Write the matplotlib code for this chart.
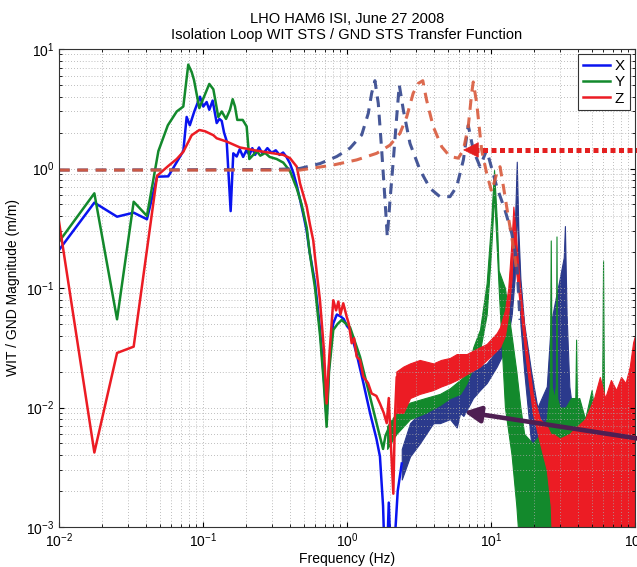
import numpy as np
import matplotlib
matplotlib.use("Agg")
import matplotlib.pyplot as plt

plt.rcParams["font.family"] = ["Liberation Sans", "DejaVu Sans"]
plt.rcParams["mathtext.fontset"] = "custom"
plt.rcParams["mathtext.rm"] = "Liberation Sans"

# --- measured transfer functions (low / mid frequency, single traces) ---
x_f = [0.01, 0.0176, 0.0253, 0.033, 0.0408, 0.048, 0.0574, 0.073, 0.077, 0.081,
       0.087, 0.0953, 0.1005, 0.106, 0.1106, 0.1167, 0.1245, 0.13, 0.1349, 0.14,
       0.146, 0.1556, 0.1623, 0.1714, 0.18, 0.19, 0.2, 0.21, 0.22, 0.23,
       0.245, 0.26, 0.28, 0.3, 0.32, 0.34, 0.36, 0.38, 0.402, 0.424,
       0.448, 0.472, 0.5, 0.525, 0.55, 0.6, 0.65, 0.69, 0.722, 0.75,
       0.8, 0.85, 0.9, 0.95, 1.0, 1.05, 1.167, 1.3, 1.445, 1.6,
       1.693, 1.78, 1.83, 1.9, 1.95, 2.0, 2.08, 2.15, 2.25, 2.4]
x_m = [0.208, 0.518, 0.395, 0.427, 0.376, 0.854, 0.86, 1.4, 2.7, 2.3,
       3.0, 3.99, 3.3, 3.6, 3.1, 3.7, 2.4, 2.6, 2.5, 2.0,
       1.7, 0.44, 1.34, 1.26, 1.45, 1.25, 1.42, 1.3, 1.48, 1.3,
       1.5, 1.32, 1.48, 1.35, 1.42, 1.3, 1.36, 1.25, 1.1, 0.92,
       0.72, 0.55, 0.4, 0.3, 0.2, 0.11, 0.045, 0.018, 0.008, 0.022,
       0.05, 0.06, 0.058, 0.055, 0.048, 0.045, 0.028, 0.016, 0.009, 0.0055,
       0.0039, 0.0015, 0.0005, 0.0006, 0.0016, 0.0007, 0.0005, 0.0008, 0.002, 0.0034]

y_f = [0.01, 0.0176, 0.0253, 0.033, 0.0408, 0.049, 0.057, 0.0657, 0.073, 0.079,
       0.0835, 0.0866, 0.0943, 0.1106, 0.118, 0.1277, 0.1349, 0.1445, 0.154, 0.1607,
       0.1668, 0.173, 0.1887, 0.201, 0.2097, 0.2234, 0.236, 0.25, 0.27, 0.29,
       0.325, 0.361, 0.402, 0.448, 0.484, 0.525, 0.55, 0.6, 0.65, 0.69,
       0.722, 0.75, 0.803, 0.86, 0.918, 1.049, 1.231, 1.445, 1.6, 1.693,
       1.78, 1.85, 2.0]
y_m = [0.244, 0.62, 0.0547, 0.527, 0.401, 1.4, 2.3, 3.0, 3.3, 7.4,
       6.4, 5.5, 3.2, 5.1, 4.6, 2.7, 3.0, 2.6, 3.1, 3.8,
       3.3, 2.55, 2.55, 2.25, 1.2, 1.3, 1.4, 1.28, 1.35, 1.25,
       1.2, 1.12, 0.95, 0.68, 0.5, 0.32, 0.2, 0.1, 0.04, 0.016,
       0.0069, 0.02, 0.0446, 0.05, 0.054, 0.047, 0.0266, 0.0123, 0.0075, 0.0057,
       0.0045, 0.0058, 0.0072]

z_f = [0.01, 0.0176, 0.0253, 0.033, 0.048, 0.0574, 0.0657, 0.073, 0.0835, 0.0943,
       0.1033, 0.118, 0.1245, 0.146, 0.1806, 0.236, 0.3078, 0.361, 0.402, 0.448,
       0.472, 0.525, 0.553, 0.583, 0.599, 0.649, 0.692, 0.722, 0.753, 0.803,
       0.84, 0.871, 0.9, 0.942, 0.995, 1.03, 1.078, 1.12, 1.167, 1.23,
       1.298, 1.4, 1.483, 1.6, 1.693, 1.8, 1.887, 1.95, 2.0, 2.098,
       2.15, 2.214, 2.3]
z_m = [0.359, 0.0042, 0.0286, 0.0323, 0.87, 1.05, 1.2, 1.38, 1.9, 2.1,
       2.05, 1.9, 1.79, 1.68, 1.5, 1.41, 1.34, 1.3, 1.22, 1.035,
       0.75, 0.48, 0.34, 0.25, 0.183, 0.079, 0.030, 0.0108, 0.0266, 0.079,
       0.065, 0.077, 0.06, 0.0745, 0.0575, 0.05, 0.0345, 0.038, 0.0266, 0.025,
       0.0181, 0.016, 0.0131, 0.0125, 0.0108, 0.009, 0.0074, 0.012, 0.006, 0.0019,
       0.008, 0.018, 0.01]

# --- dense, noisy part of the spectra: lower / upper envelopes ---
xb_f = [2.4, 2.74, 3.2, 3.97, 4.42, 5.19, 5.78, 6.1, 6.43, 6.78,
        7.5, 8.39, 9.33, 10.96, 11.55, 12.5, 13.18, 13.93, 14.6, 15.1,
        15.5, 16.0, 17.0, 19.0, 21.0, 24.4, 26.0, 28.0, 30.0, 32.0,
        32.6, 33.5, 35.0, 38.0, 45.0]
xb_lo = [0.0025, 0.0039, 0.005, 0.0074, 0.0074, 0.008, 0.0068, 0.009, 0.0085, 0.0095,
         0.012, 0.014, 0.016, 0.022, 0.025, 0.03, 0.04, 0.06, 0.12, 0.5,
         0.15, 0.05, 0.02, 0.005, 0.0005, 0.0005, 0.0005, 0.0005, 0.0005, 0.0005,
         0.0005, 0.0005, 0.0005, 0.0005, 0.0005]
xb_hi = [0.0045, 0.0074, 0.009, 0.0108, 0.0115, 0.0125, 0.0135, 0.015, 0.016, 0.018,
         0.02, 0.022, 0.0234, 0.03, 0.032, 0.045, 0.07, 0.11, 0.3, 1.14,
         0.3, 0.12, 0.05, 0.02, 0.01, 0.015, 0.05, 0.08, 0.12, 0.18,
         0.33, 0.06, 0.015, 0.007, 0.005]

yb_f = [1.9, 2.2, 2.74, 3.5, 4.42, 5.19, 6.1, 6.78, 7.53, 8.39,
        9.33, 10.0, 10.5, 11.0, 11.3, 12.5, 13.9, 15.0, 16.0, 17.0,
        19.5, 22.0, 24.4, 25.6, 26.0, 26.4, 27.5, 28.2, 28.5, 28.8,
        30.0, 33.0, 36.0, 38.5, 39.0, 39.5, 41.0, 45.0, 50.0, 52.0,
        59.0, 60.0, 61.0, 62.0]
yb_lo = [0.0045, 0.006, 0.008, 0.009, 0.0105, 0.012, 0.013, 0.016, 0.022, 0.03,
         0.06, 0.2, 0.6, 0.2, 0.1, 0.01, 0.004, 0.0015, 0.0005, 0.0004,
         0.0004, 0.0004, 0.0004, 0.0004, 0.0004, 0.0004, 0.0004, 0.0004, 0.0004, 0.0004,
         0.0004, 0.0004, 0.0004, 0.0004, 0.0004, 0.0004, 0.0004, 0.0004, 0.0004, 0.0004,
         0.0004, 0.0004, 0.0004, 0.0004]
yb_hi = [0.007, 0.009, 0.011, 0.012, 0.013, 0.0145, 0.017, 0.019, 0.032, 0.045,
         0.11, 0.35, 0.97, 0.35, 0.14, 0.1, 0.04, 0.02, 0.01, 0.006,
         0.005, 0.006, 0.008, 0.015, 0.25, 0.015, 0.012, 0.015, 0.27, 0.012,
         0.01, 0.01, 0.012, 0.012, 0.037, 0.012, 0.012, 0.008, 0.014, 0.0095,
         0.008, 0.17, 0.008, 0.006]

zb_f = [2.2, 2.46, 2.74, 3.2, 3.97, 4.5, 5.19, 5.78, 6.78, 8.39,
        9.33, 10.96, 11.55, 12.5, 13.18, 13.9, 14.3, 14.8, 15.9, 17.5,
        19.5, 21.9, 24.4, 26.0, 27.0, 30.0, 35.0, 40.0, 45.0, 52.0,
        57.0, 62.0, 68.0, 74.0, 80.0, 86.0, 92.0, 97.0, 100.0]
zb_lo = [0.009, 0.009, 0.012, 0.013, 0.014, 0.015, 0.016, 0.017, 0.019, 0.022,
         0.025, 0.03, 0.032, 0.04, 0.06, 0.12, 0.3, 0.15, 0.07, 0.025,
         0.009, 0.005, 0.003, 0.0015, 0.0004, 0.0004, 0.0004, 0.0004, 0.0004, 0.0004,
         0.0004, 0.0004, 0.0004, 0.0004, 0.0004, 0.0004, 0.0004, 0.0004, 0.0004]
zb_hi = [0.02, 0.022, 0.0234, 0.025, 0.0234, 0.025, 0.026, 0.028, 0.028, 0.032,
         0.034, 0.042, 0.047, 0.065, 0.1, 0.25, 0.48, 0.3, 0.1, 0.035,
         0.013, 0.008, 0.007, 0.006, 0.006, 0.0055, 0.006, 0.007, 0.008, 0.012,
         0.018, 0.012, 0.017, 0.014, 0.018, 0.016, 0.022, 0.035, 0.04]

# --- model curves (dashed) ---
mx_f = [0.01, 0.3, 0.47, 0.65, 0.849, 1.049, 1.265, 1.406, 1.483, 1.563,
        1.649, 1.741, 1.836, 1.905, 1.99, 2.098, 2.214, 2.307, 2.461, 2.738,
        3.214, 3.77, 4.42, 5.19, 5.78, 6.43, 6.95, 7.53, 8.39, 9.33,
        10.96, 12.5, 13.93, 15.07, 15.9]
mx_m = [0.97, 0.98, 1.0, 1.1, 1.26, 1.48, 1.91, 2.9, 4.26, 5.43,
        3.51, 1.43, 0.545, 0.269, 0.545, 1.18, 2.71, 5.0, 3.09, 1.62,
        0.971, 0.683, 0.581, 0.581, 0.705, 1.18, 2.3, 1.43, 1.035, 1.43,
        0.705, 0.45, 0.287, 0.171, 0.054]

mz_f = [0.01, 0.3, 0.472, 0.803, 1.167, 1.607, 1.99, 2.333, 2.599, 2.88,
        3.13, 3.36, 3.57, 3.97, 4.55, 5.19, 5.93, 6.43, 6.95, 7.34,
        7.53, 7.96, 8.61, 9.33, 10.1, 10.96, 11.55, 12.2, 13.18, 14.29,
        15.07]
mz_m = [0.97, 0.97, 0.97, 1.07, 1.18, 1.34, 1.57, 1.97, 2.71, 4.26,
        5.16, 5.43, 3.74, 2.24, 1.52, 1.26, 1.22, 1.43, 2.24, 4.26,
        5.3, 3.51, 1.43, 0.911, 0.64, 0.911, 1.035, 0.705, 0.395, 0.222,
        0.14]

c_x = "#0a14f0"
c_xd = "#2b3a8c"
c_y = "#13892c"
c_z = "#ec1c24"

fig = plt.figure(figsize=(6.37, 5.67), dpi=100)
ax = fig.add_axes([59 / 637, 1 - 527 / 567, 576 / 637, 478 / 567])

ax.fill_between(xb_f, xb_lo, xb_hi, color=c_xd, lw=0.8, ec=c_xd)
ax.plot(x_f, x_m, color=c_x, lw=1.8, label="X")
ax.fill_between(yb_f, yb_lo, yb_hi, color=c_y, lw=0.8, ec=c_y)
ax.plot(y_f, y_m, color=c_y, lw=1.8, label="Y")
ax.fill_between(zb_f, zb_lo, zb_hi, color=c_z, lw=0.8, ec=c_z)
ax.plot(z_f, z_m, color=c_z, lw=1.8, label="Z")

ax.plot(mx_f, mx_m, color="#3c4e92", lw=2.2, ls=(0, (3.5, 2.5)), alpha=0.95)
ax.plot(mz_f, mz_m, color="#d95a3c", lw=2.2, ls=(0, (3.5, 2.5)), alpha=0.9)

ax.set_xscale("log")
ax.set_yscale("log")
ax.set_xlim(1e-2, 1e2)
ax.set_ylim(1e-3, 1e1)
ax.grid(True, which="both", ls=(0, (1, 2.5)), color="#a8a8a8", lw=0.6)
ax.tick_params(which="both", direction="in", top=True, right=True, labelsize=10)
for s in ax.spines.values():
    s.set_linewidth(0.8)
    s.set_color("#333333")

ax.set_xlabel("Frequency (Hz)", fontsize=10, labelpad=1)
ax.set_ylabel("WIT / GND Magnitude (m/m)", fontsize=10, labelpad=4)
ax.set_title("LHO HAM6 ISI, June 27 2008\nIsolation Loop WIT STS / GND STS Transfer Function",
             fontsize=10.5, pad=7)

leg = ax.legend(loc="upper right", fontsize=11, handlelength=1.8, handletextpad=0.3,
                borderpad=0.3, labelspacing=0.15, fancybox=False, framealpha=1,
                borderaxespad=0.35)
leg.get_frame().set_edgecolor("#333333")
leg.get_frame().set_linewidth(0.8)

# annotations: red dotted pointer and purple pointer
ax.plot([7.6, 105], [1.43, 1.43], color="#e42020", lw=3.6, ls=(0, (1, 0.7)),
        clip_on=False, solid_capstyle="butt")
ax.annotate("", xy=(6.4, 1.43), xytext=(7.9, 1.43),
            arrowprops=dict(arrowstyle="-|>", color="#e42020", lw=0.5,
                            mutation_scale=26, shrinkA=0, shrinkB=0))
ax.annotate("", xy=(6.5, 0.0092), xytext=(105, 0.0055), annotation_clip=False,
            arrowprops=dict(arrowstyle="-|>", color="#4e1f52", lw=3.3,
                            mutation_scale=24, shrinkA=0, shrinkB=0))

fig.savefig("out.png", dpi=100)
